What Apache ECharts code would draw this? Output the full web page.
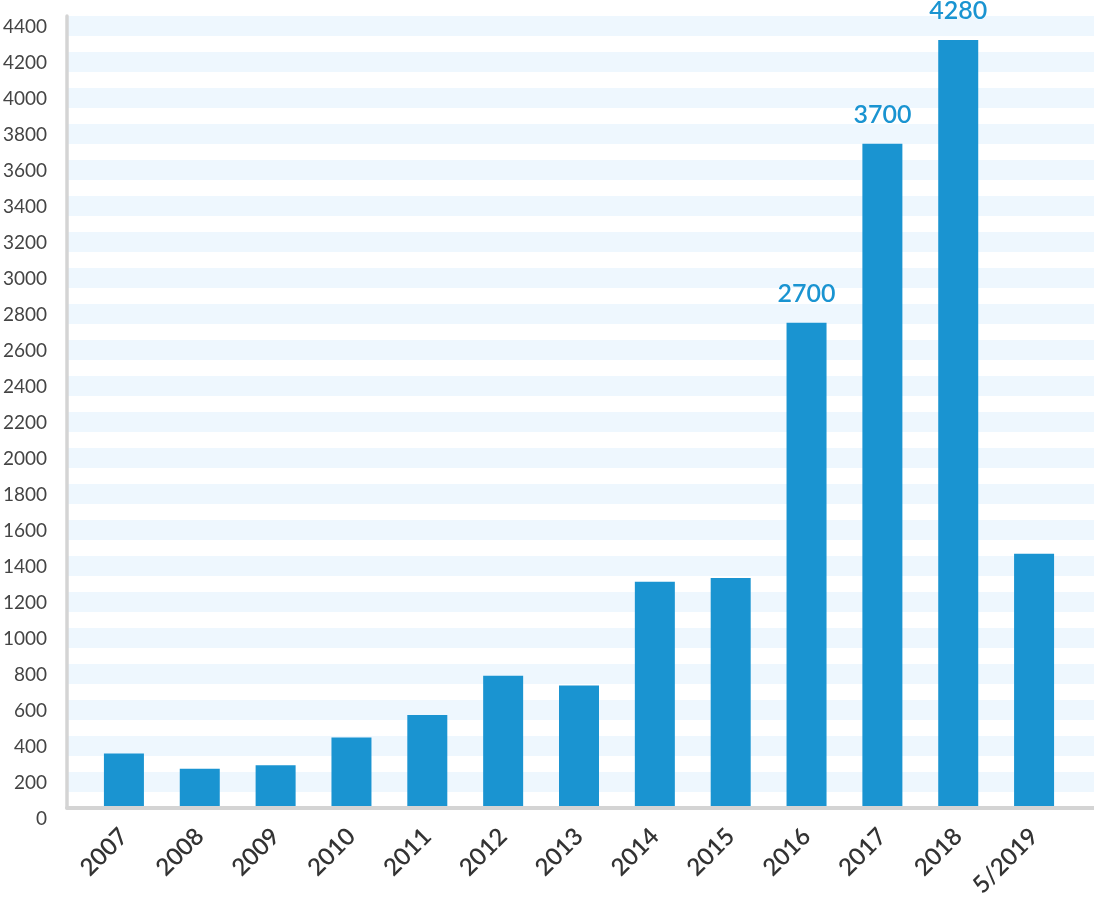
<!DOCTYPE html>
<html>
<head>
<meta charset="utf-8">
<script src="https://cdn.jsdelivr.net/npm/echarts@6/dist/echarts.min.js"></script>
<style>
html,body{margin:0;padding:0;background:#fff;}
#chart{width:1094px;height:900px;}
</style>
</head>
<body>
<div id="chart"></div>
<script>
// ---- data ----
const categories = ['2007','2008','2009','2010','2011','2012','2013','2014','2015','2016','2017','2018','5/2019'];
const values = [295, 210, 230, 385, 510, 730, 675, 1255, 1275, 2700, 3700, 4280, 1410];
const labeledCategories = ['2016','2017','2018'];
const yMin = 0;
const yMax = 4400;
const yInterval = 200;

// ---- styles ----
const FONT = 'Lato';
const barColor = '#1a94d1';
const bandColor = '#eef7fe';
const axisGray = '#d4d4d4';
const bandSpan = 111; // band thickness in axis units

const bandTops = [];
for (let v = yMin + yInterval; v <= yMax; v += yInterval) bandTops.push(v);

const barData = values.map((v, i) => ({
  value: v,
  label: { show: labeledCategories.indexOf(categories[i]) >= 0 }
}));

const chart = echarts.init(document.getElementById('chart'));
chart.setOption({
  animation: false,
  backgroundColor: '#ffffff',
  grid: [
    { left: 67, right: 0, top: 16, bottom: 92 },
    { left: 86, right: 22, top: 18.4, bottom: 90.7 },
    { left: 67, right: 0, top: 26.5, bottom: 81.5 }
  ],
  xAxis: [
    {
      type: 'value', gridIndex: 0, min: 0, max: 1, z: 3, offset: 2,
      axisLine: { show: true, lineStyle: { color: axisGray, width: 4 } },
      axisTick: { show: false }, axisLabel: { show: false }, splitLine: { show: false }
    },
    {
      type: 'category', gridIndex: 1, data: categories,
      axisLine: { show: false }, axisTick: { show: false },
      axisLabel: {
        rotate: 45, margin: 26, interval: 0,
        fontFamily: FONT, fontSize: 24, fontWeight: 600, color: '#333333'
      }
    },
    {
      type: 'value', gridIndex: 2, min: 0, max: 1, show: false
    }
  ],
  yAxis: [
    {
      type: 'value', gridIndex: 0, min: yMin, max: yMax, interval: yInterval, offset: 1.5, z: 3,
      axisLine: { show: true, lineStyle: { color: axisGray, width: 3.5 } },
      axisTick: { show: false },
      splitLine: { show: false },
      axisLabel: { show: false }
    },
    {
      type: 'value', gridIndex: 1, min: yMin, max: yMax, interval: yInterval,
      axisLine: { show: false }, axisTick: { show: false },
      axisLabel: { show: false }, splitLine: { show: false }
    },
    {
      type: 'value', gridIndex: 2, min: yMin, max: yMax, interval: yInterval,
      axisLine: { show: false }, axisTick: { show: false }, splitLine: { show: false },
      axisLabel: {
        margin: 20.5, fontFamily: FONT, fontSize: 19, color: '#444444',
        formatter: function (v) { return String(v); }
      }
    }
  ],
  series: [
    {
      type: 'custom', xAxisIndex: 0, yAxisIndex: 0, z: 1, silent: true,
      data: bandTops.map(v => [0, v]),
      renderItem: function (params, api) {
        const v = api.value(1);
        const p1 = api.coord([0, v]);
        const p2 = api.coord([1, v - bandSpan]);
        return {
          type: 'rect',
          shape: { x: p1[0], y: p1[1], width: p2[0] - p1[0], height: p2[1] - p1[1] },
          style: { fill: bandColor }
        };
      }
    },
    {
      type: 'bar', xAxisIndex: 1, yAxisIndex: 1, z: 2,
      data: barData,
      barWidth: 40,
      itemStyle: { color: barColor },
      label: {
        position: 'top', distance: 16,
        fontFamily: FONT, fontSize: 25, fontWeight: 600, color: barColor
      }
    }
  ]
});
</script>
</body>
</html>
